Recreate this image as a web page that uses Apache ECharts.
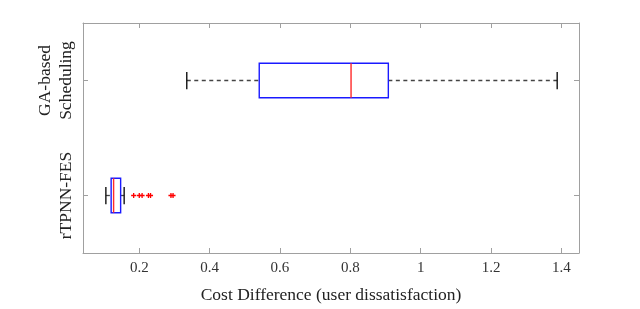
<!DOCTYPE html>
<html>
<head>
<meta charset="utf-8">
<script src="https://cdn.jsdelivr.net/npm/echarts@6/dist/echarts.min.js"></script>
<style>html,body{margin:0;padding:0;background:#fff}#c{width:640px;height:309px}</style>
</head>
<body>
<div id="c"></div>
<script>
// categories (bottom to top)
var categories = ['rTPNN-FES', 'GA-based\nScheduling'];
// [min, Q1, median, Q3, max]
var rtpnnBox = [0.105, 0.120, 0.127, 0.147, 0.157];
var gaBox = [0.335, 0.541, 0.802, 0.908, 1.388];
// outliers of rTPNN-FES
var rtpnnOutliers = [0.184, 0.200, 0.208, 0.226, 0.232, 0.290, 0.296];
var xTicks = [0.2, 0.4, 0.6, 0.8, 1, 1.2, 1.4];
var xMin = 0.04, xMax = 1.45;
var xTitle = 'Cost Difference (user dissatisfaction)';

var boxData = [[0].concat(rtpnnBox), [1].concat(gaBox)];
var outlierData = rtpnnOutliers.map(function (v) { return [v, 0]; });

var FONT = '"Liberation Serif", "DejaVu Serif", serif';
var AX = '#a0a0a0';

function renderBox(params, api) {
  var cat = api.value(0);
  var pMin = api.coord([api.value(1), cat]);
  var pQ1 = api.coord([api.value(2), cat]);
  var pMed = api.coord([api.value(3), cat]);
  var pQ3 = api.coord([api.value(4), cat]);
  var pMax = api.coord([api.value(5), cat]);
  var band = api.size([0, 1])[1];
  var bh = band * 0.3;
  var ch = bh * 0.5;
  var y = pMed[1];
  var dash = { stroke: '#444', lineWidth: 1.3, lineDash: [4, 3.5] };
  var cap = { stroke: '#111', lineWidth: 1.4 };
  return {
    type: 'group',
    children: [
      { type: 'line', shape: { x1: pMin[0], y1: y, x2: pQ1[0], y2: y }, style: dash },
      { type: 'line', shape: { x1: pQ3[0], y1: y, x2: pMax[0], y2: y }, style: dash },
      { type: 'line', shape: { x1: pMin[0], y1: y - ch / 2, x2: pMin[0], y2: y + ch / 2 }, style: cap },
      { type: 'line', shape: { x1: pMax[0], y1: y - ch / 2, x2: pMax[0], y2: y + ch / 2 }, style: cap },
      { type: 'rect', shape: { x: pQ1[0], y: y - bh / 2, width: pQ3[0] - pQ1[0], height: bh },
        style: { fill: 'none', stroke: '#1a1aff', lineWidth: 1.4 } },
      { type: 'line', shape: { x1: pMed[0], y1: y - bh / 2, x2: pMed[0], y2: y + bh / 2 },
        style: { stroke: '#ff2a2a', lineWidth: 1.4 } }
    ]
  };
}

var chart = echarts.init(document.getElementById('c'), null, { renderer: 'canvas' });
chart.setOption({
  animation: false,
  backgroundColor: '#fff',
  grid: { left: 83, right: 61, top: 23, bottom: 47, containLabel: false },
  xAxis: [{
    type: 'value', min: xMin, max: xMax,
    name: xTitle, nameLocation: 'middle', nameGap: 33,
    nameTextStyle: { fontFamily: FONT, fontSize: 17.5, color: '#222' },
    axisLine: { show: true, lineStyle: { color: AX } },
    axisTick: { show: true, inside: true, length: 5, lineStyle: { color: AX }, customValues: xTicks },
    axisLabel: { customValues: xTicks, fontFamily: FONT, fontSize: 15, color: '#333', margin: 8 },
    splitLine: { show: false }
  }, {
    type: 'value', min: xMin, max: xMax, position: 'top',
    axisLine: { show: true, lineStyle: { color: AX } },
    axisTick: { show: true, inside: true, length: 5, lineStyle: { color: AX }, customValues: xTicks },
    axisLabel: { show: false },
    splitLine: { show: false }
  }],
  yAxis: [{
    type: 'category', data: categories,
    axisLine: { show: true, lineStyle: { color: AX } },
    axisTick: { show: true, inside: true, length: 5, alignWithLabel: true, lineStyle: { color: AX } },
    axisLabel: { rotate: 90, fontFamily: FONT, fontSize: 17.5, color: '#222', margin: 6, lineHeight: 21 },
    splitLine: { show: false }
  }, {
    type: 'category', data: categories, position: 'right',
    axisLine: { show: true, lineStyle: { color: AX } },
    axisTick: { show: true, inside: true, length: 5, alignWithLabel: true, lineStyle: { color: AX } },
    axisLabel: { show: false },
    splitLine: { show: false }
  }],
  series: [{
    type: 'custom',
    renderItem: renderBox,
    data: boxData,
    encode: { x: [1, 2, 3, 4, 5], y: 0 },
    z: 2
  }, {
    type: 'scatter',
    data: outlierData,
    symbol: 'path://M0,3L6,3M3,0L3,6',
    symbolSize: 5,
    itemStyle: { color: 'none', borderColor: '#ff0000', borderWidth: 1.3, opacity: 1 },
    z: 3
  }]
});
</script>
</body>
</html>
